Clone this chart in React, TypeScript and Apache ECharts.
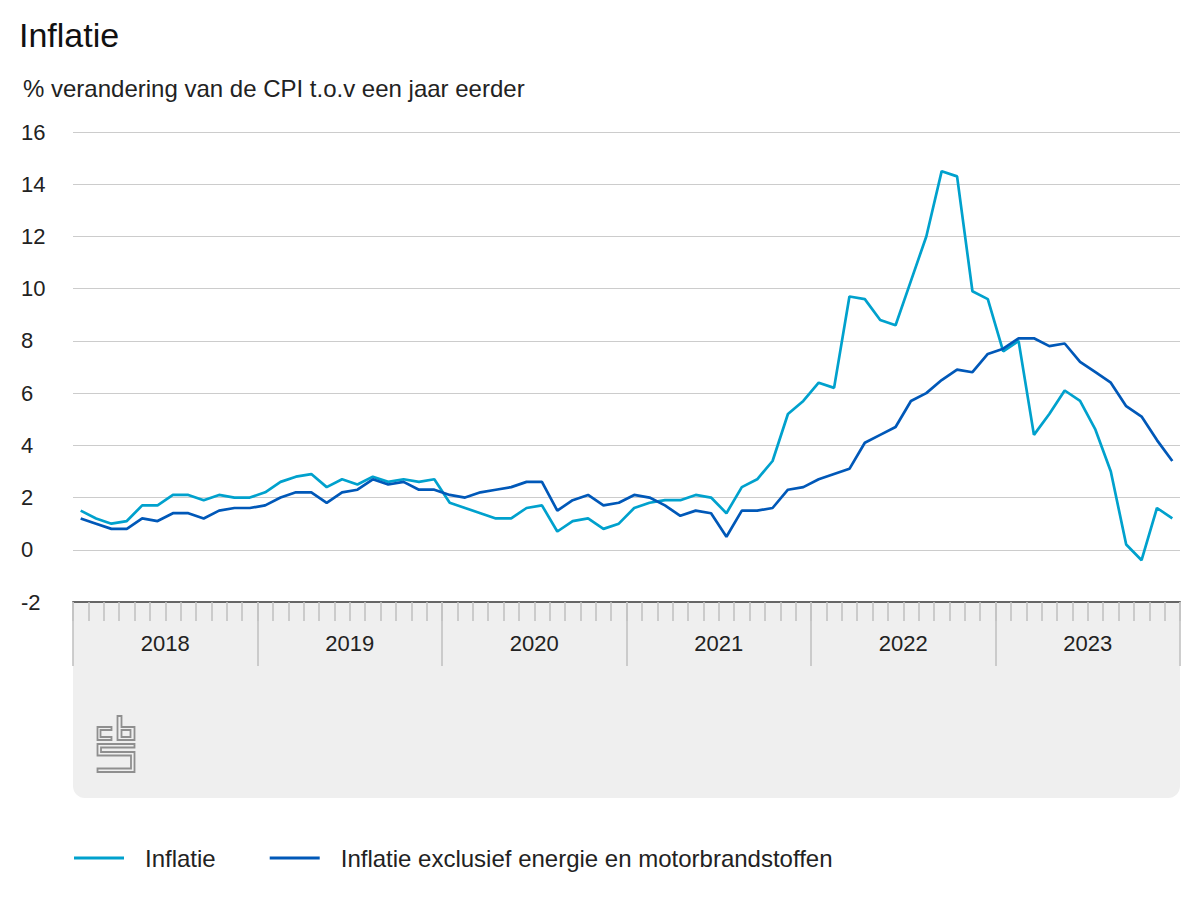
import React, { useEffect, useRef } from "react";
import * as echarts from "echarts";

const years = ["2018", "2019", "2020", "2021", "2022", "2023"];
const monthNames = ["jan", "feb", "mrt", "apr", "mei", "jun", "jul", "aug", "sep", "okt", "nov", "dec"];
const months = years.flatMap((y) => monthNames.map((m) => `${m} ${y}`));

const inflatie = [
  1.5, 1.2, 1.0, 1.1, 1.7, 1.7, 2.1, 2.1, 1.9, 2.1, 2.0, 2.0,
  2.2, 2.6, 2.8, 2.9, 2.4, 2.7, 2.5, 2.8, 2.6, 2.7, 2.6, 2.7,
  1.8, 1.6, 1.4, 1.2, 1.2, 1.6, 1.7, 0.7, 1.1, 1.2, 0.8, 1.0,
  1.6, 1.8, 1.9, 1.9, 2.1, 2.0, 1.4, 2.4, 2.7, 3.4, 5.2, 5.7,
  6.4, 6.2, 9.7, 9.6, 8.8, 8.6, 10.3, 12.0, 14.5, 14.3, 9.9, 9.6,
  7.6, 8.0, 4.4, 5.2, 6.1, 5.7, 4.6, 3.0, 0.2, -0.4, 1.6, 1.2,
];

const inflatieExcl = [
  1.2, 1.0, 0.8, 0.8, 1.2, 1.1, 1.4, 1.4, 1.2, 1.5, 1.6, 1.6,
  1.7, 2.0, 2.2, 2.2, 1.8, 2.2, 2.3, 2.7, 2.5, 2.6, 2.3, 2.3,
  2.1, 2.0, 2.2, 2.3, 2.4, 2.6, 2.6, 1.5, 1.9, 2.1, 1.7, 1.8,
  2.1, 2.0, 1.7, 1.3, 1.5, 1.4, 0.5, 1.5, 1.5, 1.6, 2.3, 2.4,
  2.7, 2.9, 3.1, 4.1, 4.4, 4.7, 5.7, 6.0, 6.5, 6.9, 6.8, 7.5,
  7.7, 8.1, 8.1, 7.8, 7.9, 7.2, 6.8, 6.4, 5.5, 5.1, 4.2, 3.4,
];

const seriesNames = ["Inflatie", "Inflatie exclusief energie en motorbrandstoffen"];
const seriesColors = ["#00a1cd", "#0058b8"];

const TITLE = "Inflatie";
const SUBTITLE = "% verandering van de CPI t.o.v een jaar eerder";

const FONT = "'Liberation Sans', Arial, Helvetica, sans-serif";

const LOGO_D =
  "M0 11H14V14H3V21H14V24H0Z M20 0H24V11H37V24H20Z M24 14H33V21H24Z M0 28H37V31.5H3.5V36H37V56H0V52.5H33.5V39.5H0Z";

let registered = false;
function registerLogo() {
  if (registered) return;
  echarts.graphic.registerShape("cbslogo", echarts.graphic.extendPath(LOGO_D, {}));
  registered = true;
}

export default function App() {
  const ref = useRef<HTMLDivElement>(null);

  useEffect(() => {
    if (!ref.current) return;
    registerLogo();
    const chart = echarts.init(ref.current, undefined, { renderer: "svg" });
    const option: any = {
      animation: false,
      backgroundColor: "#ffffff",
      textStyle: { fontFamily: FONT },
      grid: { left: 73, right: 20, top: 132, bottom: 298, containLabel: false },
      legend: {
        left: 74,
        top: 846,
        padding: 0,
        icon: "rect",
        itemWidth: 50,
        itemHeight: 3,
        itemGap: 54,
        textStyle: { fontSize: 24, color: "#222", fontFamily: FONT, padding: [0, 0, 0, 16] },
        data: seriesNames,
      },
      xAxis: [
        {
          type: "category",
          data: months,
          boundaryGap: true,
          position: "bottom",
          axisLine: { show: true, onZero: false, lineStyle: { color: "#666", width: 2 } },
          axisTick: { show: true, interval: 0, length: 19, lineStyle: { color: "#c2c2c2", width: 1.6 } },
          axisLabel: { show: false },
          splitLine: { show: false },
        },
        {
          type: "category",
          data: years,
          boundaryGap: true,
          position: "bottom",
          axisLine: { show: false, onZero: false },
          axisTick: { show: true, interval: 0, length: 64, lineStyle: { color: "#c2c2c2", width: 1.6 } },
          axisLabel: {
            show: true,
            interval: 0,
            fontSize: 22,
            color: "#222",
            fontFamily: FONT,
            margin: 41,
            verticalAlign: "middle",
          },
          splitLine: { show: false },
        },
      ],
      yAxis: {
        type: "value",
        min: -2,
        max: 16,
        interval: 2,
        axisLine: { show: false },
        axisTick: { show: false },
        axisLabel: {
          fontSize: 22,
          color: "#222",
          fontFamily: FONT,
          align: "left",
          margin: 52,
          verticalAlign: "middle",
          padding: [6, 0, 0, 0],
        },
        splitLine: { show: true, lineStyle: { color: "#cccccc", width: 1 } },
      },
      series: [
        {
          name: seriesNames[0],
          type: "line",
          data: inflatie,
          xAxisIndex: 0,
          symbol: "none",
          lineStyle: { color: seriesColors[0], width: 2.7 },
          itemStyle: { color: seriesColors[0] },
          z: 3,
        },
        {
          name: seriesNames[1],
          type: "line",
          data: inflatieExcl,
          xAxisIndex: 0,
          symbol: "none",
          lineStyle: { color: seriesColors[1], width: 2.7 },
          itemStyle: { color: seriesColors[1] },
          z: 4,
        },
      ],
      graphic: [
        {
          type: "rect",
          z: -10,
          shape: { x: 73, y: 603, width: 1107, height: 195, r: [0, 0, 12, 12] },
          style: { fill: "#efefef" },
        },
        {
          type: "text",
          x: 19,
          y: 35,
          style: {
            text: TITLE,
            fontSize: 34,
            fontFamily: FONT,
            fill: "#111",
            verticalAlign: "middle",
          },
        },
        {
          type: "text",
          x: 23,
          y: 88,
          style: {
            text: SUBTITLE,
            fontSize: 24,
            fontFamily: FONT,
            fill: "#222",
            verticalAlign: "middle",
          },
        },
        {
          type: "cbslogo",
          x: 97.5,
          y: 716,
          z: 5,
          style: { fill: "none", stroke: "#8f8f8f", lineWidth: 1.8 },
        },
      ],
    };
    chart.setOption(option);
    return () => chart.dispose();
  }, []);

  return (
    <div
      ref={ref}
      style={{ position: "fixed", left: 0, top: 0, width: 1200, height: 900 }}
    />
  );
}
